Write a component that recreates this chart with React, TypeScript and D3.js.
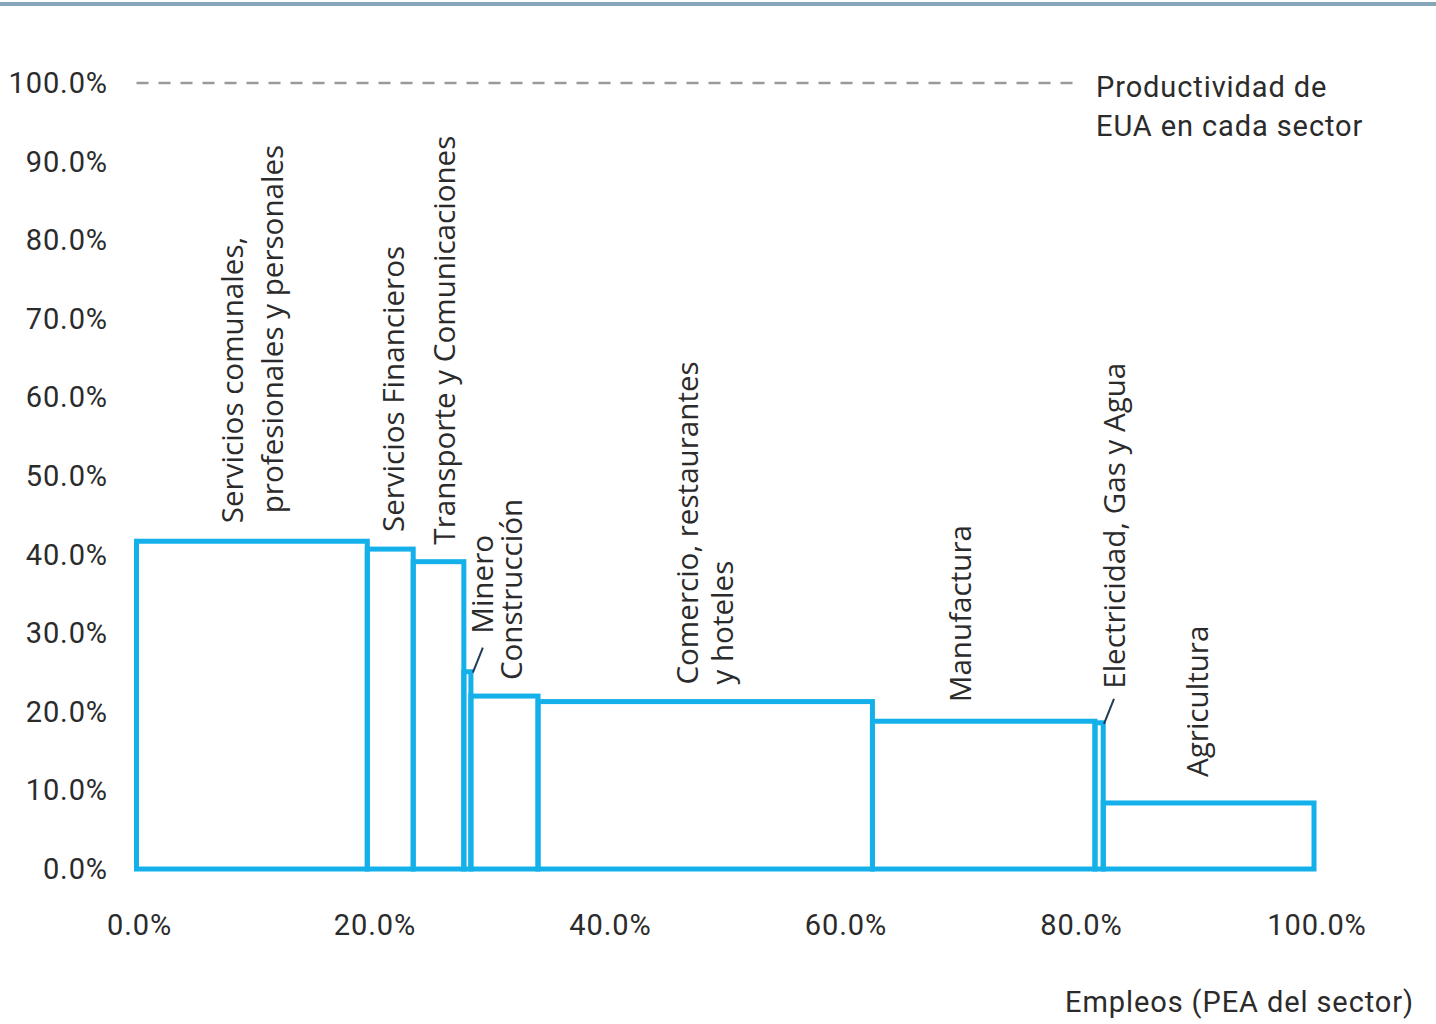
import React from 'react';
import * as d3 from 'd3';

// sectors in drawing order (left to right)
const sectors = [
  'Servicios comunales, profesionales y personales',
  'Servicios Financieros',
  'Transporte y Comunicaciones',
  'Minero',
  'Construcción',
  'Comercio, restaurantes y hoteles',
  'Manufactura',
  'Electricidad, Gas y Agua',
  'Agricultura',
];
// share of employment (% of PEA), bar widths
const employmentShare = [19.6, 3.9, 4.3, 0.6, 5.7, 28.4, 18.9, 0.7, 17.9];
// productivity relative to USA (%), bar heights
const productivity = [41.7, 40.7, 39.1, 25.1, 22.0, 21.3, 18.8, 18.6, 8.4];

const yTicks = [0, 10, 20, 30, 40, 50, 60, 70, 80, 90, 100];
const xTicks = [0, 20, 40, 60, 80, 100];

// label lines per sector
const labelLines = [
  ['Servicios comunales,', 'profesionales y personales'],
  ['Servicios Financieros'],
  ['Transporte y Comunicaciones'],
  ['Minero'],
  ['Construcción'],
  ['Comercio, restaurantes', 'y hoteles'],
  ['Manufactura'],
  ['Electricidad, Gas y Agua'],
  ['Agricultura'],
];

// layout for the rotated labels: baseline offsets from the bar's left edge, gap above bar top
const labelLayout = [
  { dx: [106, 146], gap: [18, 28] },
  { dx: [37], gap: [17] },
  { dx: [42], gap: [17] },
  { dx: [29], gap: [38], leader: true },
  { dx: [51], gap: [16] },
  { dx: [160, 195], gap: [17, 17] },
  { dx: [99], gap: [19] },
  { dx: [30], gap: [34], leader: true },
  { dx: [105], gap: [26] },
];

const BLUE = '#14b0ea';
const TEXT = '#2b2b2b';
const TICK_FONT = 'Roboto, "Liberation Sans", sans-serif';
const LABEL_FONT = '"Open Sans", "Noto Sans", sans-serif';

const App = () => {
  const width = 1436;
  const height = 1024;

  const x = d3.scaleLinear().domain([0, 100]).range([136.5, 1314]);
  const y = d3.scaleLinear().domain([0, 100]).range([869, 83]);

  const starts = d3.cumsum([0, ...employmentShare.slice(0, -1)]);
  const bars = sectors.map((name, i) => ({
    name,
    x0: starts[i],
    x1: starts[i] + employmentShare[i],
    v: productivity[i],
  }));

  const tickText = { fontFamily: TICK_FONT, fontSize: 29, fill: TEXT, letterSpacing: 0.9 };

  return (
    <div style={{ position: 'absolute', left: 0, top: 0 }}>
      <svg width={width} height={height} style={{ display: 'block', background: '#fff' }}>
        {/* top rule */}
        <line x1={0} x2={width} y1={4} y2={4} stroke="#86a5b9" strokeWidth={4} />

        {/* y tick labels */}
        {yTicks.map(t => (
          <text key={'y' + t} x={108} y={y(t)} textAnchor="end" dominantBaseline="central" {...tickText}>
            {d3.format('.1f')(t)}%
          </text>
        ))}

        {/* x tick labels */}
        {xTicks.map(t => (
          <text key={'x' + t} x={x(t) + 3} y={925} textAnchor="middle" dominantBaseline="central" {...tickText}>
            {d3.format('.1f')(t)}%
          </text>
        ))}

        {/* USA reference line */}
        <line x1={x(0)} x2={1080} y1={y(100)} y2={y(100)} stroke="#9a9a9a" strokeWidth={2.5}
          strokeDasharray="12 10" />
        <text x={1096} y={97} {...tickText}>Productividad de</text>
        <text x={1096} y={136} {...tickText}>EUA en cada sector</text>

        {/* bars */}
        {bars.map(b => (
          <rect key={b.name} x={x(b.x0)} y={y(b.v)} width={x(b.x1) - x(b.x0)} height={y(0) - y(b.v)}
            fill="none" stroke={BLUE} strokeWidth={5} />
        ))}

        {/* sector labels */}
        {bars.map((b, i) => {
          const lay = labelLayout[i];
          const top = y(b.v);
          return (
            <g key={'l' + b.name}>
              {labelLines[i].map((line, j) => {
                const bx = x(b.x0) + lay.dx[j];
                const by = top - lay.gap[j];
                return (
                  <text key={line} transform={`translate(${bx},${by}) rotate(-90)`}
                    fontFamily={LABEL_FONT} fontSize={29.6} fill={TEXT}>
                    {line}
                  </text>
                );
              })}
              {lay.leader && (
                <line x1={x(b.x0) + 9} y1={top + 1} x2={x(b.x0) + 19} y2={top - 24}
                  stroke="#1f3b55" strokeWidth={2} />
              )}
            </g>
          );
        })}

        {/* x axis title */}
        <text x={1414} y={1012} textAnchor="end" {...tickText}>
          Empleos (PEA del sector)
        </text>
      </svg>
    </div>
  );
};

export default App;
